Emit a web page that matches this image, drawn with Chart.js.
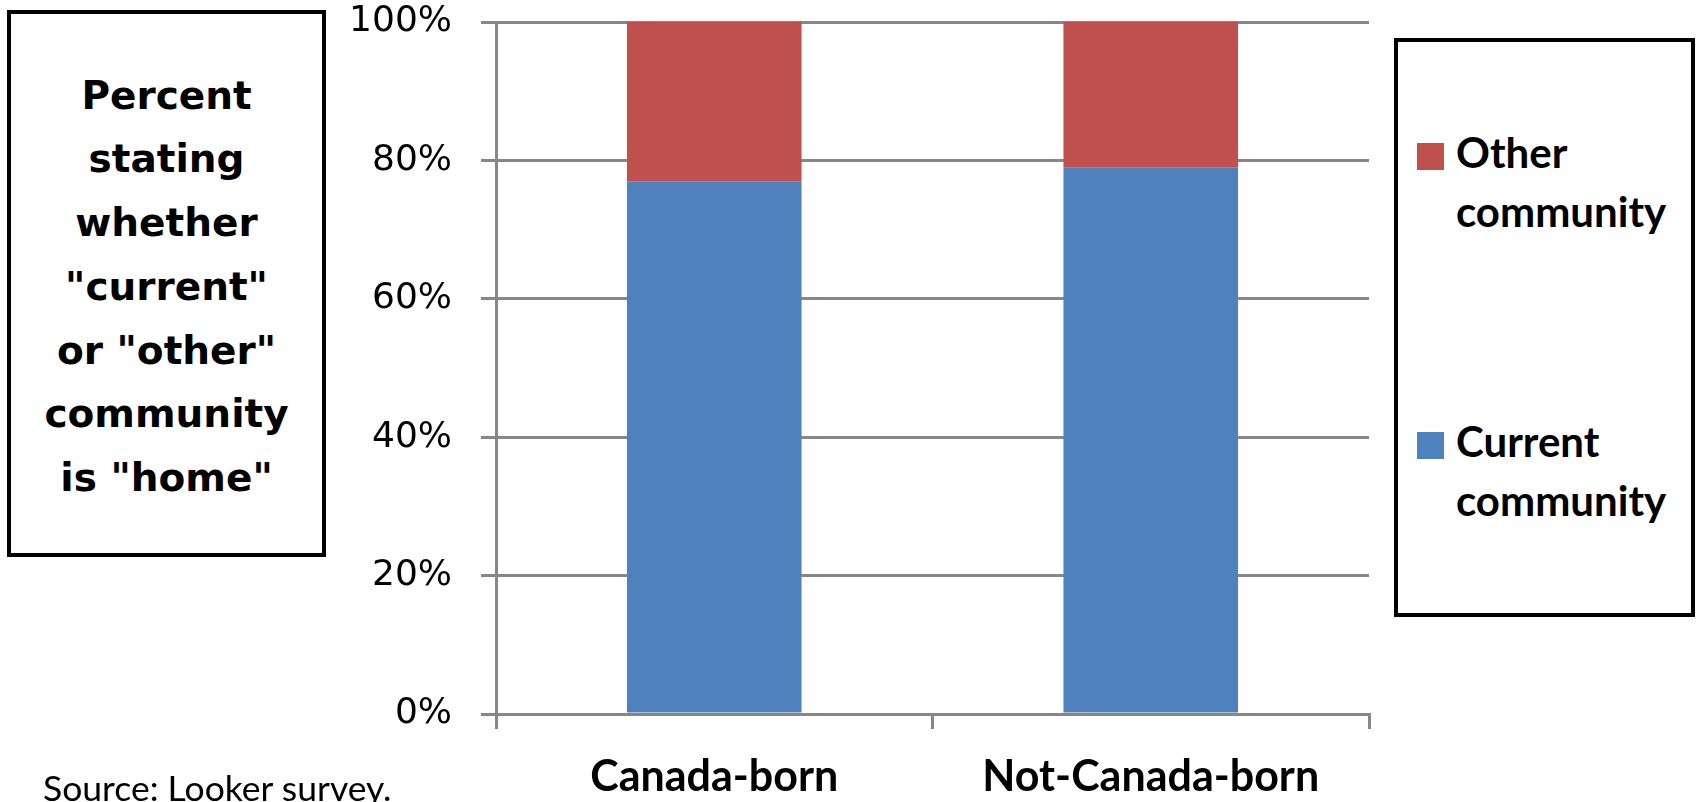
<!DOCTYPE html>
<html>
<head>
<meta charset="utf-8">
<title>Where is "home"?</title>
<script src="https://cdn.jsdelivr.net/npm/chart.js@4/dist/chart.umd.min.js"></script>
<style>
  html, body { margin: 0; padding: 0; background: #fff; width: 1700px; height: 802px; overflow: hidden; }
  #wrap { position: relative; width: 1700px; height: 802px; }
  #chart { position: absolute; left: 0; top: 0; }
  .title-box {
    position: absolute; left: 7px; top: 10px; width: 319px; height: 547px;
    box-sizing: border-box; border: 4px solid #000; background: #fff;
  }
  .title-text {
    position: absolute; left: 0; right: 0; top: 49.5px;
    font-family: "DejaVu Sans", sans-serif; font-weight: bold; font-size: 39px;
    line-height: 63.8px; text-align: center; color: #000;
  }
  .legend-box {
    position: absolute; left: 1394px; top: 38px; width: 301px; height: 579px;
    box-sizing: border-box; border: 4px solid #000; background: #fff;
    padding-top: 81px;
  }
  .legend-item { display: flex; align-items: flex-start; margin-left: 19px; }
  .legend-item + .legend-item { margin-top: 171.6px; }
  .legend-swatch { width: 27px; height: 27px; margin-top: 19.5px; flex: none; }
  .legend-label {
    margin-left: 12px; width: 236px;
    font-family: Lato, sans-serif; font-weight: bold; font-size: 42px;
    line-height: 58.7px; color: #000;
  }
  .source {
    position: absolute; left: 43px; top: 766px;
    font-family: Lato, sans-serif; font-size: 35.5px; line-height: 43px; color: #000;
    white-space: nowrap;
  }
</style>
</head>
<body>
<div id="wrap">
  <canvas id="chart" width="1700" height="802"></canvas>
  <div class="title-box">
    <div class="title-text">Percent<br>stating<br>whether<br>"current"<br>or "other"<br>community<br>is "home"</div>
  </div>
  <div class="legend-box" id="legend"></div>
  <div class="source">Source: Looker survey.</div>
</div>
<script>
// Respondent groups along the horizontal axis
const categories = ['Canada-born', 'Not-Canada-born'];

// Share (%) naming each place as "home"
const currentCommunity = [77, 79];
const otherCommunity = [23, 21];

// Series names and fills
const seriesNames = ['Current community', 'Other community'];
const seriesColors = ['#4F81BD', '#C0504D'];

// Vertical axis ticks
const yTickValues = [0, 20, 40, 60, 80, 100];
const yTickLabels = ['0%', '20%', '40%', '60%', '80%', '100%'];

const axisGrey = '#878787';

// Builds the boxed legend from the chart's datasets (top of stack listed first)
const htmlLegend = {
  id: 'htmlLegend',
  afterUpdate(chart) {
    const box = document.getElementById('legend');
    box.innerHTML = '';
    const items = chart.options.plugins.legend.labels.generateLabels(chart).slice().reverse();
    items.forEach(item => {
      const row = document.createElement('div');
      row.className = 'legend-item';
      const sw = document.createElement('div');
      sw.className = 'legend-swatch';
      sw.style.background = item.fillStyle;
      const txt = document.createElement('div');
      txt.className = 'legend-label';
      txt.textContent = item.text;
      row.appendChild(sw);
      row.appendChild(txt);
      box.appendChild(row);
    });
  }
};

function draw() {
  const ctx = document.getElementById('chart').getContext('2d');
  new Chart(ctx, {
    type: 'bar',
    data: {
      labels: categories,
      datasets: [
        { label: seriesNames[0], data: currentCommunity, backgroundColor: seriesColors[0], borderWidth: 0 },
        { label: seriesNames[1], data: otherCommunity, backgroundColor: seriesColors[1], borderWidth: 0 }
      ]
    },
    options: {
      responsive: false,
      animation: false,
      devicePixelRatio: 1,
      layout: { padding: { left: 0, right: 331, top: 22, bottom: 0 } },
      datasets: { bar: { categoryPercentage: 1, barPercentage: 0.4 } },
      plugins: {
        legend: { display: false },
        tooltip: { enabled: false }
      },
      scales: {
        x: {
          stacked: true,
          grid: { display: true, drawOnChartArea: false, drawTicks: true, tickLength: 15, color: axisGrey, lineWidth: 3, offset: true },
          border: { display: true, color: axisGrey, width: 3 },
          ticks: { font: { family: 'Lato', weight: 'bold', size: 43 }, color: '#000', padding: 22, maxRotation: 0, autoSkip: false },
          afterFit(scale) {
            scale.height = 88;
            scale.paddingLeft = 0;
            scale.paddingRight = 0;
          }
        },
        y: {
          stacked: true,
          min: 0,
          max: 100,
          afterBuildTicks(scale) { scale.ticks = yTickValues.map(v => ({ value: v })); },
          ticks: {
            callback: (v) => yTickLabels[yTickValues.indexOf(v)],
            font: { family: 'DejaVu Sans', size: 36 },
            color: '#000',
            padding: 29
          },
          grid: { color: axisGrey, lineWidth: 3, tickLength: 15 },
          border: { display: true, color: axisGrey, width: 3 },
          afterFit(scale) {
            scale.width = 496;
            // the plot area is set by layout padding; let the end labels overhang it
            scale.paddingTop = 0;
            scale.paddingBottom = 0;
          }
        }
      }
    },
    plugins: [htmlLegend]
  });
}

Promise.all([
  document.fonts.load('bold 43px Lato'),
  document.fonts.load('36px "DejaVu Sans"')
]).then(draw, draw);
</script>
</body>
</html>
